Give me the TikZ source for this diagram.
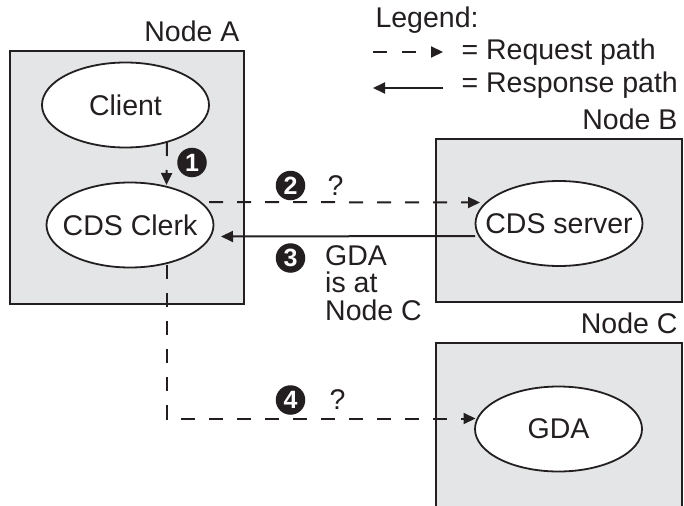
\documentclass[tikz,border=0pt]{standalone}
\usepackage{fontspec}
\setmainfont{Liberation Sans}
\usetikzlibrary{shapes.geometric,arrows.meta,calc}
\definecolor{boxgray}{HTML}{E4E5E6}
\definecolor{ink}{HTML}{231F20}
\begin{document}
\begin{tikzpicture}[x=1pt,y=-1pt,
  every node/.style={font=\fontsize{28.5}{32}\selectfont, text=ink},
  hostbox/.style={draw=ink, fill=boxgray, line width=2.2pt},
  proc/.style={ellipse, draw=ink, fill=white, line width=1.8pt, minimum width=167pt, minimum height=85pt, inner xsep=-40pt, inner ysep=0pt},
  tip/.style={-{Triangle[length=12pt,width=11pt]}},
  req/.style={tip, draw=ink, line width=2pt, dash pattern=on 14pt off 14pt},
  resp/.style={tip, draw=ink, line width=2pt},
  badge/.style={circle, fill=ink, minimum size=29.5pt, inner sep=0pt, text=white, font=\fontsize{25}{25}\selectfont\bfseries},
  lbl/.style={anchor=base east},
  txt/.style={anchor=base west}
]
\useasboundingbox (0,0) rectangle (684,505);
% host boxes
\draw[hostbox] (10,51) rectangle (244,304);
\draw[hostbox] (436,139) rectangle (682,302);
\begin{scope}
\clip (0,0) rectangle (684,505);
\draw[hostbox] (436,343) rectangle (682,520);
\end{scope}
\node[lbl] (la) at (243,42) {Node A};
\node[lbl] (lb) at (681,130) {Node B};
\node[lbl] (lc) at (681,333) {Node C};
% processes
\node[proc] (client) at (125.5,105) {Client};
\node[proc] (clerk) at (130,225) {CDS Clerk};
\node[proc] (server) at (559,223.5) {CDS server};
\node[proc] (gda) at (558.5,429) {GDA};
% connectors
\draw[req] ($(client.center)+(41.5,37)$) -- ($(clerk.center)+(36.5,-40)$);
\draw[req] ($(clerk.center)+(79,-23)$) -- ($(server.center)+(-79,-21)$);
\draw[resp] ($(server.center)+(-84,12.5)$) -- ($(clerk.center)+(91,11.5)$);
\draw[req] ($(clerk.center)+(36.5,40)$) |- ($(gda.center)+(-83,-10.5)$);
% badges
\node[badge] (b1) at (192,162.5) {1};
\node[badge] (b2) at (290.5,185.5) {2};
\node[badge] (b3) at (290.5,258) {3};
\node[badge] (b4) at (290.5,400) {4};
\node[txt] (q2) at (324,195) {?};
\node[txt] (q4) at (326,409) {?};
\node[txt, align=left, anchor=north west, inner sep=0pt, font=\fontsize{28.5}{27.5}\selectfont] (ans) at (325,245) {GDA\\is at\\Node C};
% legend
\node[txt] (leg) at (372,28) {Legend:};
\coordinate (r1a) at (373,52);
\coordinate (r1b) at (443,52);
\draw[req, dash pattern=on 14pt off 15pt] (r1a) -- (r1b);
\node[txt] (t1) at (458,60) {= Request path};
\coordinate (r2a) at (443,88);
\coordinate (r2b) at (373,88);
\draw[resp] (r2a) -- (r2b);
\node[txt] (t2) at (458,93) {= Response path};
\end{tikzpicture}
\end{document}
